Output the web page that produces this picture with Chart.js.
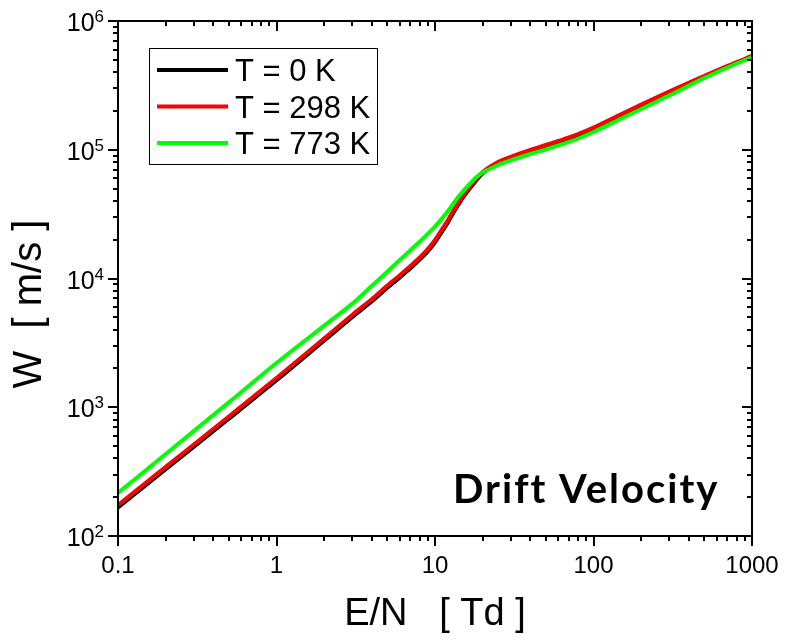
<!DOCTYPE html>
<html>
<head>
<meta charset="utf-8">
<title>Drift Velocity</title>
<script src="https://cdn.jsdelivr.net/npm/chart.js@4.4.1/dist/chart.umd.min.js"></script>
<style>
  html, body { margin: 0; padding: 0; background: #ffffff; }
  canvas { display: block; }
</style>
</head>
<body>
<canvas id="chart" width="788" height="641"></canvas>
<script>
// Reduced field E/N in Td
const EN = [0.1, 0.2, 0.5, 1, 2, 3, 4, 5, 6, 7, 8, 9, 10, 11, 12, 13, 14, 15, 16, 18, 20,
            25, 30, 40, 50, 60, 70, 80, 100, 150, 200, 300, 500, 700, 1000];

// Electron drift velocity W in m/s at three gas temperatures
const W_0K = [167, 331, 814, 1620, 3300, 5010, 6660, 8460, 10200, 12000, 14000, 16250, 19100,
              22900, 27000, 32200, 37200, 42400, 47300, 56800, 65800,
              79200, 86600, 98200, 107400, 115400, 122800, 130700, 146800, 187000, 221500,
              279500, 369000, 442000, 530000];
const W_298K = [174, 344, 847, 1687, 3427, 5210, 6930, 8810, 10600, 12500, 14550, 16900, 19900,
                23900, 28100, 33400, 38500, 43800, 48700, 58200, 67100,
                80400, 87900, 99600, 108900, 117000, 124500, 132500, 148800, 189500, 224500,
                283000, 374000, 448000, 535000];
const W_773K = [216, 433, 1091, 2207, 4310, 6350, 8770, 11300, 13900, 16600, 19300, 22200, 25300,
                29000, 33100, 37900, 43000, 47400, 51900, 60400, 66500,
                76000, 82600, 92700, 100500, 108000, 115000, 122300, 137400, 174900, 207500,
                263700, 360600, 435500, 525000];

const SERIES_LABELS = ['T = 0 K', 'T = 298 K', 'T = 773 K'];
const SERIES_COLORS = ['#000000', '#ff0000', '#00ff00'];

const X_TICKS = [0.1, 1, 10, 100, 1000];
const X_TICK_LABELS = ['0.1', '1', '10', '100', '1000'];
const Y_TICKS = [1e2, 1e3, 1e4, 1e5, 1e6];
const Y_TICK_EXPONENTS = ['2', '3', '4', '5', '6'];

const X_TITLE = 'E/N   [ Td ]';
const Y_TITLE = 'W  [ m/s ]';
const PANEL_LABEL = 'Drift Velocity';

const SANS = '"Liberation Sans", Arial, Helvetica, sans-serif';

function toPoints(xs, ys) {
  return xs.map((x, i) => ({ x: x, y: ys[i] }));
}

// Boxed axes with outward ticks on bottom/left, inward ticks on top/right,
// tick labels, axis titles, legend and panel label.
const decorations = {
  id: 'decorations',
  afterDraw(chart) {
    const { ctx, chartArea: a } = chart;
    const xs = chart.scales.x;
    const ys = chart.scales.y;
    ctx.save();
    ctx.strokeStyle = '#000';
    ctx.fillStyle = '#000';
    ctx.lineWidth = 2;
    ctx.lineCap = 'butt';

    ctx.strokeRect(a.left, a.top, a.right - a.left, a.bottom - a.top);

    const MAJOR = 10, MINOR = 5;
    ctx.beginPath();
    // x ticks
    for (let d = -1; d <= 3; d++) {
      for (let k = 1; k <= 9; k++) {
        const v = k * Math.pow(10, d);
        if (v < xs.min * 0.999 || v > xs.max * 1.001) continue;
        const px = Math.round(xs.getPixelForValue(v));
        const len = k === 1 ? MAJOR : MINOR;
        ctx.moveTo(px, a.bottom);
        ctx.lineTo(px, a.bottom + len);
        ctx.moveTo(px, a.top);
        ctx.lineTo(px, a.top + len);
      }
    }
    // y ticks
    for (let d = 2; d <= 6; d++) {
      for (let k = 1; k <= 9; k++) {
        const v = k * Math.pow(10, d);
        if (v < ys.min * 0.999 || v > ys.max * 1.001) continue;
        const py = Math.round(ys.getPixelForValue(v));
        const len = k === 1 ? MAJOR : MINOR;
        ctx.moveTo(a.left, py);
        ctx.lineTo(a.left - len, py);
        ctx.moveTo(a.right, py);
        ctx.lineTo(a.right - len, py);
      }
    }
    ctx.stroke();

    // x tick labels
    ctx.font = '24px ' + SANS;
    ctx.textAlign = 'center';
    ctx.textBaseline = 'alphabetic';
    X_TICKS.forEach((v, i) => {
      ctx.fillText(X_TICK_LABELS[i], xs.getPixelForValue(v), a.bottom + 37);
    });

    // y tick labels: 10 with raised exponent
    Y_TICKS.forEach((v, i) => {
      const py = ys.getPixelForValue(v);
      const right = a.left - 14;
      ctx.font = '17px ' + SANS;
      ctx.textAlign = 'right';
      const ew = ctx.measureText(Y_TICK_EXPONENTS[i]).width;
      ctx.fillText(Y_TICK_EXPONENTS[i], right, py + 1);
      ctx.font = '25px ' + SANS;
      ctx.fillText('10', right - ew, py + 10);
    });

    // axis titles
    ctx.font = '38px ' + SANS;
    ctx.textAlign = 'center';
    ctx.fillText(X_TITLE, (a.left + a.right) / 2, 625);

    ctx.save();
    ctx.translate(41, 304);
    ctx.rotate(-Math.PI / 2);
    ctx.font = '40px ' + SANS;
    ctx.textAlign = 'center';
    ctx.fillText(Y_TITLE, 0, 0);
    ctx.restore();

    // legend
    ctx.lineWidth = 1;
    ctx.strokeRect(149.5, 48.5, 228, 116);
    ctx.font = '31px ' + SANS;
    ctx.textAlign = 'left';
    chart.data.datasets.forEach((ds, i) => {
      const ly = 70 + i * 36.5;
      ctx.strokeStyle = ds.borderColor;
      ctx.lineWidth = 4;
      ctx.beginPath();
      ctx.moveTo(157, ly);
      ctx.lineTo(228, ly);
      ctx.stroke();
      ctx.fillStyle = '#000';
      ctx.fillText(ds.label, 235, ly + 11);
    });

    // panel label
    ctx.font = 'bold 40px Lato, "Open Sans", sans-serif';
    ctx.textAlign = 'left';
    if ('letterSpacing' in ctx) ctx.letterSpacing = '2px';
    ctx.fillText(PANEL_LABEL, 453, 503);

    ctx.restore();
  }
};

const datasets = [W_0K, W_298K, W_773K].map((w, i) => ({
  label: SERIES_LABELS[i],
  data: toPoints(EN, w),
  borderColor: SERIES_COLORS[i],
  backgroundColor: SERIES_COLORS[i],
  borderWidth: 4,
  pointRadius: 0,
  fill: false,
  cubicInterpolationMode: 'monotone',
  borderJoinStyle: 'round',
  order: 2 - i
}));

new Chart(document.getElementById('chart'), {
  type: 'line',
  data: { datasets: datasets },
  options: {
    responsive: false,
    devicePixelRatio: 1,
    animation: false,
    layout: { padding: { left: 118, top: 21, right: 36, bottom: 105 } },
    scales: {
      x: { type: 'logarithmic', min: 0.1, max: 1000, display: false },
      y: { type: 'logarithmic', min: 100, max: 1e6, display: false }
    },
    plugins: {
      legend: { display: false },
      tooltip: { enabled: false }
    }
  },
  plugins: [decorations]
});
</script>
</body>
</html>
